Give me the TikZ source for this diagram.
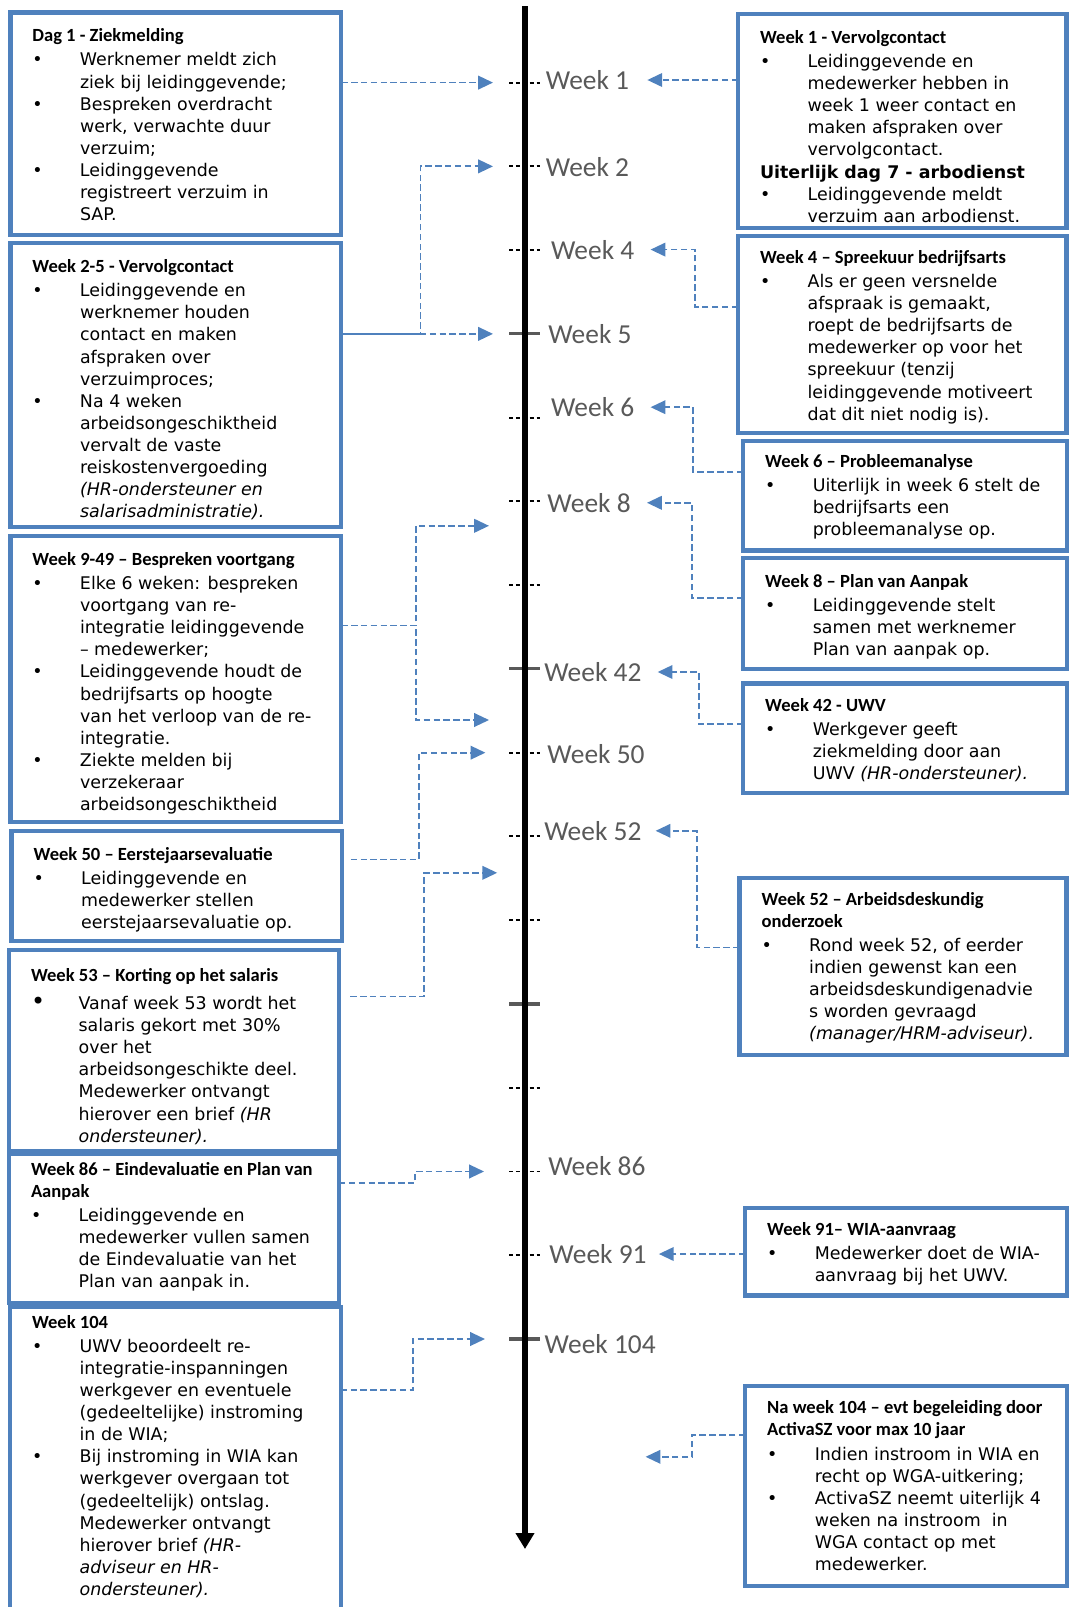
\documentclass[tikz,border=0pt]{standalone}
\usepackage{fontspec}
\setmainfont{DejaVu Sans}
\newfontfamily\titlefont{Carlito}
\usetikzlibrary{arrows.meta}

\definecolor{boxblue}{HTML}{4F81BD}
\definecolor{labelgray}{HTML}{595959}

\newcommand{\stagetitle}[1]{\multicolumn{2}{@{}l@{}}{\titlefont\bfseries\fontsize{13.2}{16}\selectfont #1}}
\newcommand{\itm}{\textbullet &}
\newcommand{\stagebox}[4][0.35cm]{\parbox[t][#3][t]{#2}{\vspace*{#1}\hspace*{0.55cm}\begin{tabular}[t]{@{}p{1.19cm}@{}l@{}}#4\end{tabular}}}

\begin{document}
\begin{tikzpicture}[
    stage box/.style={draw=boxblue, line width=0.11cm, fill=white, inner sep=0pt, outer sep=0pt, anchor=north west, font=\fontsize{12.4}{15.72}\selectfont},
    week label/.style={anchor=west, inner sep=0pt, text=labelgray, font=\titlefont\fontsize{19.5}{23}\selectfont},
    time line/.style={line width=0.14cm, -{Triangle[length=0.4cm, width=0.45cm]}},
    minor tick/.style={line width=1.4pt, dash pattern=on 3pt off 1.9pt},
    major tick/.style={labelgray, line width=2.2pt},
    flow/.style={boxblue, line width=1.25pt, dash pattern=on 4.6pt off 2.4pt, -{Triangle[length=0.37cm, width=0.34cm]}}
]
\useasboundingbox (0,0) rectangle (26.725,-40.175);

% Time line with ticks
\foreach \i in {0,...,15}
    \coordinate (t\i) at (13.125,{-2.065-2.094*\i});
\foreach \i in {0,1,2,4,5,6,8,9,10,12,13,14}
    \draw[minor tick] ([xshift=-0.4cm]t\i) -- ([xshift=0.375cm]t\i);
\foreach \i in {3,7,11,15}
    \draw[major tick] ([xshift=-0.4cm]t\i) -- ([xshift=0.375cm]t\i);
\draw[time line] (13.125,-0.15) -- (13.125,-38.725);

% Week labels
\node[week label] (w1) at (13.64,-2.0) {Week 1};
\node[week label] (w2) at (13.64,-4.17) {Week 2};
\node[week label] (w4) at (13.77,-6.24) {Week 4};
\node[week label] (w5) at (13.7,-8.35) {Week 5};
\node[week label] (w6) at (13.77,-10.18) {Week 6};
\node[week label] (w8) at (13.68,-12.57) {Week 8};
\node[week label] (w42) at (13.6,-16.8) {Week 42};
\node[week label] (w50) at (13.68,-18.86) {Week 50};
\node[week label] (w52) at (13.6,-20.77) {Week 52};
\node[week label] (w86) at (13.7,-29.14) {Week 86};
\node[week label] (w91) at (13.73,-31.35) {Week 91};
\node[week label] (w104) at (13.61,-33.6) {Week 104};

% Free arrow ends between the ticks
\coordinate (wk9) at (12.225,-13.145);
\coordinate (wk49) at (12.225,-18.0);
\coordinate (wk53) at (12.43,-21.82);
\coordinate (after104) at (16.14,-36.42);

% Left column
\node[stage box] (b1) at (0.26,-0.31) {\stagebox{8.27cm}{5.57cm}{%
\stagetitle{Dag 1 - Ziekmelding}\\[1.4pt]
\itm Werknemer meldt zich\\
& ziek bij leidinggevende;\\
\itm Bespreken overdracht\\
& werk, verwachte duur\\
& verzuim;\\
\itm Leidinggevende\\
& registreert verzuim in\\
& SAP.}};

\node[stage box] (b2) at (0.26,-6.08) {\stagebox{8.27cm}{7.09cm}{%
\stagetitle{Week 2-5 - Vervolgcontact}\\[1.4pt]
\itm Leidinggevende en\\
& werknemer houden\\
& contact en maken\\
& afspraken over\\
& verzuimproces;\\
\itm Na 4 weken\\
& arbeidsongeschiktheid\\
& vervalt de vaste\\
& reiskostenvergoeding\\
& \textit{(HR-ondersteuner en}\\
& \textit{salarisadministratie).}}};

\node[stage box] (b3) at (0.26,-13.4) {\stagebox{8.27cm}{7.15cm}{%
\stagetitle{Week 9-49 – Bespreken voortgang}\\[1.4pt]
\itm Elke 6 weken: bespreken\\
& voortgang van re-\\
& integratie leidinggevende\\
& – medewerker;\\
\itm Leidinggevende houdt de\\
& bedrijfsarts op hoogte\\
& van het verloop van de re-\\
& integratie.\\
\itm Ziekte melden bij\\
& verzekeraar\\
& arbeidsongeschiktheid}};

\node[stage box] (b4) at (0.29,-20.78) {\stagebox{8.26cm}{2.75cm}{%
\stagetitle{Week 50 – Eerstejaarsevaluatie}\\[1.4pt]
\itm Leidinggevende en\\
& medewerker stellen\\
& eerstejaarsevaluatie op.}};

\node[stage box] (b5) at (0.225,-23.75) {\stagebox[0.39cm]{8.25cm}{5.03cm}{%
\stagetitle{Week 53 – Korting op het salaris}\\[4.5pt]
{\fontsize{17}{15}\selectfont\textbullet} & Vanaf week 53 wordt het\\
& salaris gekort met 30\%\\
& over het\\
& arbeidsongeschikte deel.\\
& Medewerker ontvangt\\
& hierover een brief \textit{(HR}\\
& \textit{ondersteuner).}}};

\node[stage box] (b6) at (0.225,-28.85) {\stagebox[0.14cm]{8.25cm}{3.73cm}{%
\stagetitle{Week 86 – Eindevaluatie en Plan van}\\
\stagetitle{Aanpak}\\[1.4pt]
\itm Leidinggevende en\\
& medewerker vullen samen\\
& de Eindevaluatie van het\\
& Plan van aanpak in.}};

\node[stage box] (b7) at (0.25,-32.68) {\stagebox[0.14cm]{8.27cm}{8cm}{%
\stagetitle{Week 104}\\[1.4pt]
\itm UWV beoordeelt re-\\
& integratie-inspanningen\\
& werkgever en eventuele\\
& (gedeeltelijke) instroming\\
& in de WIA;\\
\itm Bij instroming in WIA kan\\
& werkgever overgaan tot\\
& (gedeeltelijk) ontslag.\\
& Medewerker ontvangt\\
& hierover brief \textit{(HR-}\\
& \textit{adviseur en HR-}\\
& \textit{ondersteuner).}}};

% Right column
\node[stage box] (r1) at (18.45,-0.35) {\stagebox{8.21cm}{5.35cm}{%
\stagetitle{Week 1 - Vervolgcontact}\\[1.4pt]
\itm Leidinggevende en\\
& medewerker hebben in\\
& week 1 weer contact en\\
& maken afspraken over\\
& vervolgcontact.\\
\multicolumn{2}{@{}l@{}}{\bfseries Uiterlijk dag 7 - arbodienst}\\
\itm Leidinggevende meldt\\
& verzuim aan arbodienst.}};

\node[stage box] (r2) at (18.45,-5.9) {\stagebox[0.3cm]{8.21cm}{4.93cm}{%
\stagetitle{Week 4 – Spreekuur bedrijfsarts}\\[1.4pt]
\itm Als er geen versnelde\\
& afspraak is gemaakt,\\
& roept de bedrijfsarts de\\
& medewerker op voor het\\
& spreekuur (tenzij\\
& leidinggevende motiveert\\
& dat dit niet nodig is).}};

\node[stage box] (r3) at (18.58,-11.03) {\stagebox[0.26cm]{8.09cm}{2.73cm}{%
\stagetitle{Week 6 – Probleemanalyse}\\[1.4pt]
\itm Uiterlijk in week 6 stelt de\\
& bedrijfsarts een\\
& probleemanalyse op.}};

\node[stage box] (r4) at (18.58,-13.95) {\stagebox{8.09cm}{2.78cm}{%
\stagetitle{Week 8 – Plan van Aanpak}\\[1.4pt]
\itm Leidinggevende stelt\\
& samen met werknemer\\
& Plan van aanpak op.}};

\node[stage box] (r5) at (18.58,-17.09) {\stagebox[0.3cm]{8.09cm}{2.74cm}{%
\stagetitle{Week 42 - UWV}\\[1.4pt]
\itm Werkgever geeft\\
& ziekmelding door aan\\
& UWV \textit{(HR-ondersteuner).}}};

\node[stage box] (r6) at (18.49,-21.95) {\stagebox[0.29cm]{8.17cm}{4.43cm}{%
\stagetitle{Week 52 – Arbeidsdeskundig}\\
\stagetitle{onderzoek}\\[1.4pt]
\itm Rond week 52, of eerder\\
& indien gewenst kan een\\
& arbeidsdeskundigenadvie\\
& s worden gevraagd\\
& \textit{(manager/HRM-adviseur).}}};

\node[stage box] (r7) at (18.63,-30.2) {\stagebox[0.3cm]{8.04cm}{2.19cm}{%
\stagetitle{Week 91– WIA-aanvraag}\\[1.4pt]
\itm Medewerker doet de WIA-\\
& aanvraag bij het UWV.}};

\node[stage box] (r8) at (18.63,-34.65) {\stagebox[0.31cm]{8.04cm}{5cm}{%
\stagetitle{Na week 104 – evt begeleiding door}\\
\stagetitle{ActivaSZ voor max 10 jaar}\\[1.4pt]
\itm Indien instroom in WIA en\\
& recht op WGA-uitkering;\\
\itm ActivaSZ neemt uiterlijk 4\\
& weken na instroom\ \ in\\
& WGA contact op met\\
& medewerker.}};

% Connectors from the left column
\draw[flow] (b1.east |- t0) -- ([xshift=-0.8cm]t0);
\draw[flow, dash phase=3pt] (b2.east |- t3) -- ++(1.98,0) |- ([xshift=-0.8cm]t1);
\draw[flow] (b2.east |- t3) -- ([xshift=-0.8cm]t3);
\draw[flow] ([yshift=-2.235cm]b3.north east) -- ++(1.87,0) |- (wk9);
\draw[flow] ([yshift=-2.235cm]b3.north east) -- ++(1.87,0) |- (wk49);
\draw[flow] ([xshift=0.22cm,yshift=-0.71cm]b4.north east) -- ++(1.7,0) |- ([xshift=-0.99cm]t8);
\draw[flow] ([xshift=0.28cm,yshift=-1.165cm]b5.north east) -- ++(1.85,0) |- (wk53);
\draw[flow] ([yshift=-0.725cm]b6.north east) -- ++(1.9,0) |- ([xshift=-1.025cm]t13);
\draw[flow] ([yshift=-2.075cm]b7.north east) -- ++(1.8,0) |- ([xshift=-1cm]t15);

% Connectors from the right column
\draw[flow, shorten >=0.45cm] (r1.west |- w1.east) -- (w1.east);
\draw[flow, shorten >=0.4cm] ([yshift=-1.775cm]r2.north west) -- ++(-1.075,0) |- (w4.east);
\draw[flow, shorten >=0.4cm] ([yshift=-0.77cm]r3.north west) -- ++(-1.25,0) |- (w6.east);
\draw[flow, shorten >=0.4cm] ([yshift=-1cm]r4.north west) -- ++(-1.28,0) |- (w8.east);
\draw[flow, shorten >=0.4cm] ([yshift=-1.01cm]r5.north west) -- ++(-1.11,0) |- (w42.east);
\draw[flow, shorten >=0.35cm] ([yshift=-1.735cm]r6.north west) -- ++(-1.065,0) |- (w52.east);
\draw[flow, shorten >=0.3cm] (r7.west |- w91.east) -- (w91.east);
\draw[flow] ([yshift=-1.225cm]r8.north west) -- ++(-1.33,0) |- (after104);

\end{tikzpicture}
\end{document}
